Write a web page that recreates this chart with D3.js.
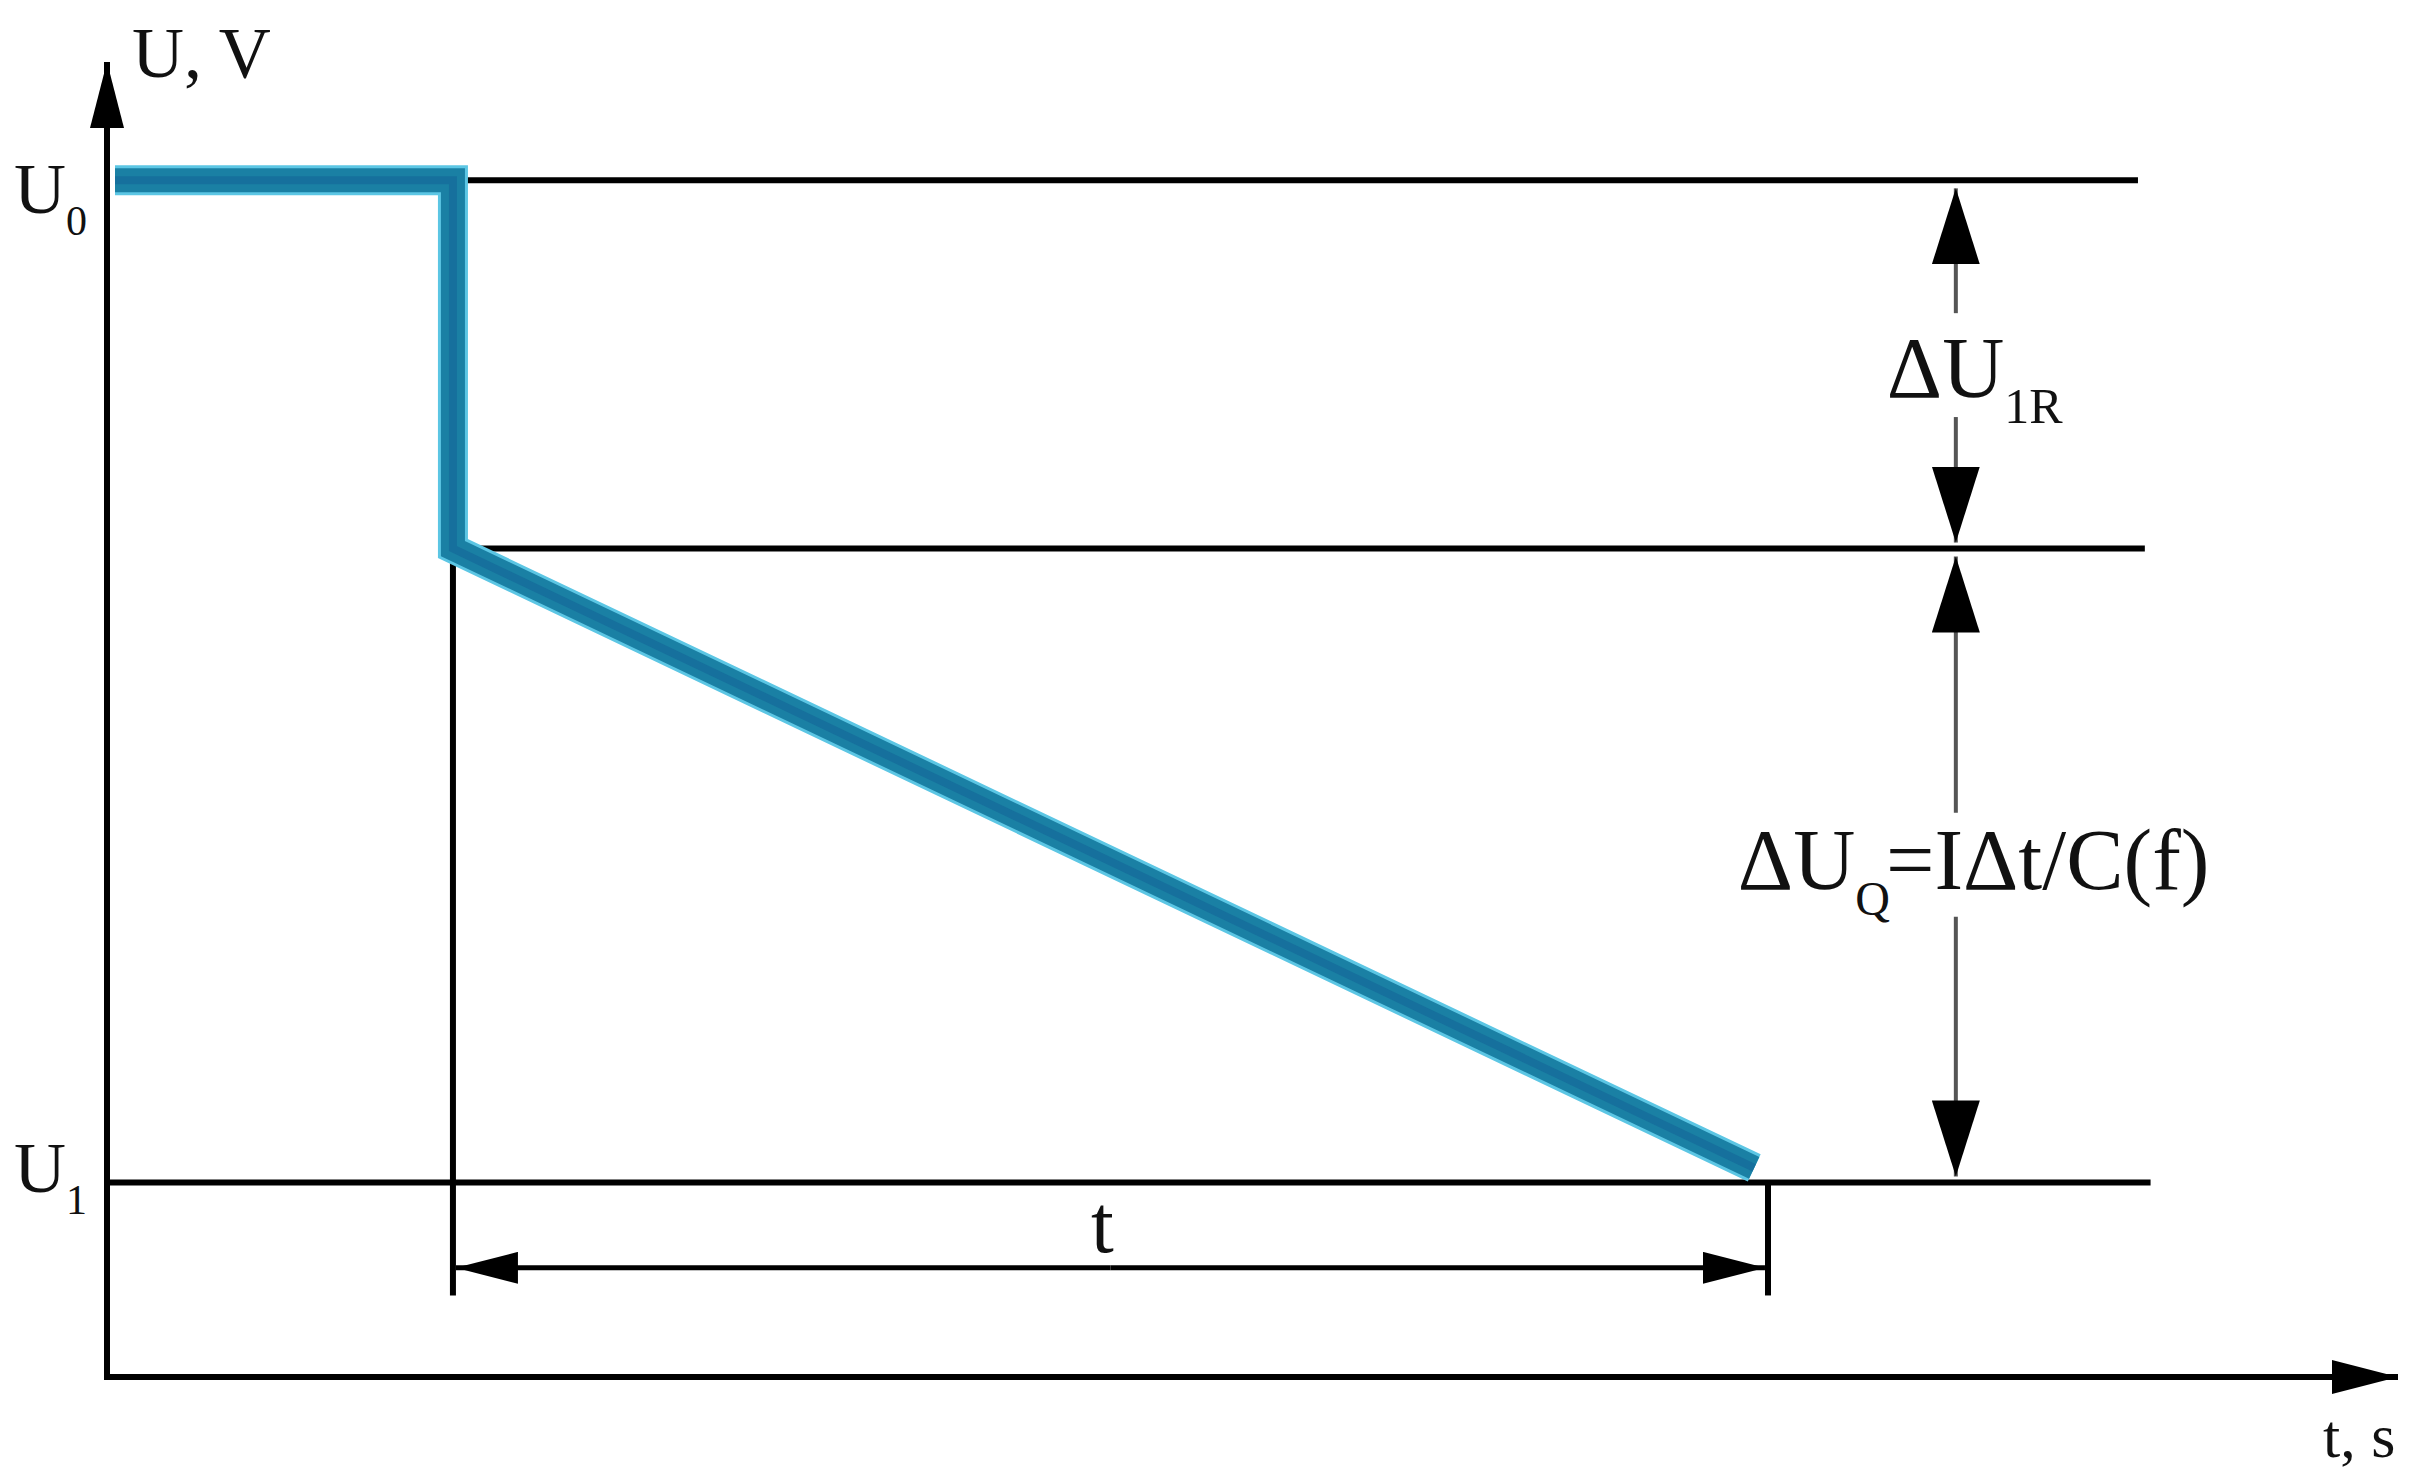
<!DOCTYPE html>
<meta charset="utf-8">
<head>
  <title>Capacitor voltage drop</title>
  <style>
    body { margin: 0; background: #fff; }
    text { font-family: "Liberation Serif", "DejaVu Serif", serif; fill: #111; }
  </style>
</head>

<body>
  <script src="https://d3js.org/d3.v7.min.js"></script>

  <script>

// levels on the U axis (0..100 = axis length)
const levels = { U0: 91, Umid: 63, U1: 14.8 };

// the blue voltage trace: [t, U]
const trace = [
  [0.35, 91],
  [15.1, 91],
  [15.1, 63],
  [71.9, 15.9]
];

// horizontal reference lines: [tStart, tEnd, U]
const refLines = [
  [15.6, 88.65, 91],
  [15.1, 88.95, 63],
  [0, 89.2, 14.8]
];

// dimension for t
const tStart = 15.1, tEnd = 72.5, tDimU = 8.3, tExtBottom = 6.2;

// dimension arrows for the voltage drops
const dimT = 80.7;
const dU1R = { top: 91, bottom: 63, gapTop: 80.9, gapBottom: 73.0 };
const dUQ = { top: 63, bottom: 14.8, gapTop: 42.9, gapBottom: 35.0 };

const totalWidth = 2424, totalHeight = 1481;

const svg = d3.select("body")
    .append("svg")
    .attr("width", totalWidth)
    .attr("height", totalHeight);

const x = d3.scaleLinear()
    .domain([0, 100])
    .range([107, 2398]);

const y = d3.scaleLinear()
    .domain([0, 100])
    .range([1377, 62]);

// arrow heads
const defs = svg.append("defs");
function marker(id, len, half) {
  defs.append("marker")
    .attr("id", id)
    .attr("markerUnits", "userSpaceOnUse")
    .attr("viewBox", `0 ${-half} ${len} ${2 * half}`)
    .attr("refX", len)
    .attr("refY", 0)
    .attr("markerWidth", len)
    .attr("markerHeight", 2 * half)
    .attr("orient", "auto")
    .append("path")
    .attr("d", `M0,${-half}L${len},0L0,${half}Z`)
    .style("fill", "#000");
}
marker("axisHead", 66, 17);
marker("tHead", 62, 16);
marker("dHead", 76, 24);

// reference lines
svg.append("g")
  .selectAll("line")
  .data(refLines)
  .join("line")
  .attr("x1", d => x(d[0]))
  .attr("x2", d => x(d[1]))
  .attr("y1", d => y(d[2]))
  .attr("y2", d => y(d[2]))
  .style("stroke", "#000")
  .style("stroke-width", 6);

// extension lines of the t dimension
svg.append("g")
  .selectAll("line")
  .data([[tStart, levels.Umid], [tEnd, levels.U1]])
  .join("line")
  .attr("x1", d => x(d[0]))
  .attr("x2", d => x(d[0]))
  .attr("y1", d => y(d[1]))
  .attr("y2", y(tExtBottom))
  .style("stroke", "#000")
  .style("stroke-width", 6);

// t dimension arrow (both ends)
const tDim = svg.append("g");
const tMid = (tStart + tEnd) / 2;
tDim.append("line")
  .attr("x1", x(tMid)).attr("x2", x(tStart) + 3)
  .attr("y1", y(tDimU)).attr("y2", y(tDimU))
  .attr("marker-end", "url(#tHead)")
  .style("stroke", "#000").style("stroke-width", 5);
tDim.append("line")
  .attr("x1", x(tMid)).attr("x2", x(tEnd) - 3)
  .attr("y1", y(tDimU)).attr("y2", y(tDimU))
  .attr("marker-end", "url(#tHead)")
  .style("stroke", "#000").style("stroke-width", 5);
tDim.append("text")
  .attr("x", x(tMid) - 8)
  .attr("y", y(tDimU) - 16)
  .attr("text-anchor", "middle")
  .style("font-size", "82px")
  .text("t");

// voltage drop arrows
function dropArrow(d) {
  const g = svg.append("g");
  g.append("line")
    .attr("x1", x(dimT)).attr("x2", x(dimT))
    .attr("y1", y(d.gapTop)).attr("y2", y(d.top) + 8)
    .attr("marker-end", "url(#dHead)")
    .style("stroke", "#555").style("stroke-width", 4);
  g.append("line")
    .attr("x1", x(dimT)).attr("x2", x(dimT))
    .attr("y1", y(d.gapBottom)).attr("y2", y(d.bottom) - 6)
    .attr("marker-end", "url(#dHead)")
    .style("stroke", "#555").style("stroke-width", 4);
}
dropArrow(dU1R);
dropArrow(dUQ);

// axes
svg.append("line")
  .attr("x1", x(0)).attr("x2", x(0))
  .attr("y1", y(0) + 3).attr("y2", y(100))
  .attr("marker-end", "url(#axisHead)")
  .style("stroke", "#000").style("stroke-width", 6);
svg.append("line")
  .attr("x1", x(0) - 3).attr("x2", x(100))
  .attr("y1", y(0)).attr("y2", y(0))
  .attr("marker-end", "url(#axisHead)")
  .style("stroke", "#000").style("stroke-width", 6);

// blue trace
const lineGen = d3.line()
  .x(d => x(d[0]))
  .y(d => y(d[1]));

svg.append("path")
  .attr("d", lineGen(trace))
  .style("fill", "none")
  .style("stroke", "#5cc6e4")
  .style("stroke-width", 30)
  .style("stroke-linejoin", "miter");
svg.append("path")
  .attr("d", lineGen(trace))
  .style("fill", "none")
  .style("stroke", "#1a80a4")
  .style("stroke-width", 24)
  .style("stroke-linejoin", "miter");
svg.append("path")
  .attr("d", lineGen(trace))
  .style("fill", "none")
  .style("stroke", "#115f95")
  .style("stroke-opacity", 0.5)
  .style("stroke-width", 8)
  .style("stroke-linejoin", "miter");

// labels
const labels = svg.append("g");

labels.append("text")
  .attr("x", x(0) + 25)
  .attr("y", y(100) + 15)
  .style("font-size", "72px")
  .text("U, V");

labels.append("text")
  .attr("x", x(100) - 75)
  .attr("y", y(0) + 80)
  .style("font-size", "62px")
  .text("t, s");

function levelLabel(sub, u, dy) {
  const t = labels.append("text")
    .attr("x", x(0) - 20)
    .attr("y", y(u) + dy)
    .attr("text-anchor", "end")
    .style("font-size", "72px");
  t.append("tspan").text("U");
  t.append("tspan").attr("dy", 22).style("font-size", "42px").text(sub);
}
levelLabel("0", levels.U0, 33);
levelLabel("1", levels.U1, 10);

const l1 = labels.append("text")
  .attr("x", x(dimT) - 69)
  .attr("y", y((dU1R.gapTop + dU1R.gapBottom) / 2) + 32)
  .style("font-size", "86px");
l1.append("tspan").text("\u0394U");
l1.append("tspan").attr("dy", 26).attr("dx", 0).style("font-size", "50px").text("1R");

const l2 = labels.append("text")
  .attr("x", x(dimT) - 218)
  .attr("y", y((dUQ.gapTop + dUQ.gapBottom) / 2) + 24)
  .style("font-size", "86px");
l2.append("tspan").text("\u0394U");
l2.append("tspan").attr("dy", 26).attr("dx", 0).style("font-size", "48px").text("Q");
l2.append("tspan").attr("dy", -26).attr("dx", -4).text("=I\u0394t/C(f)");

  </script>
</body>
</html>
